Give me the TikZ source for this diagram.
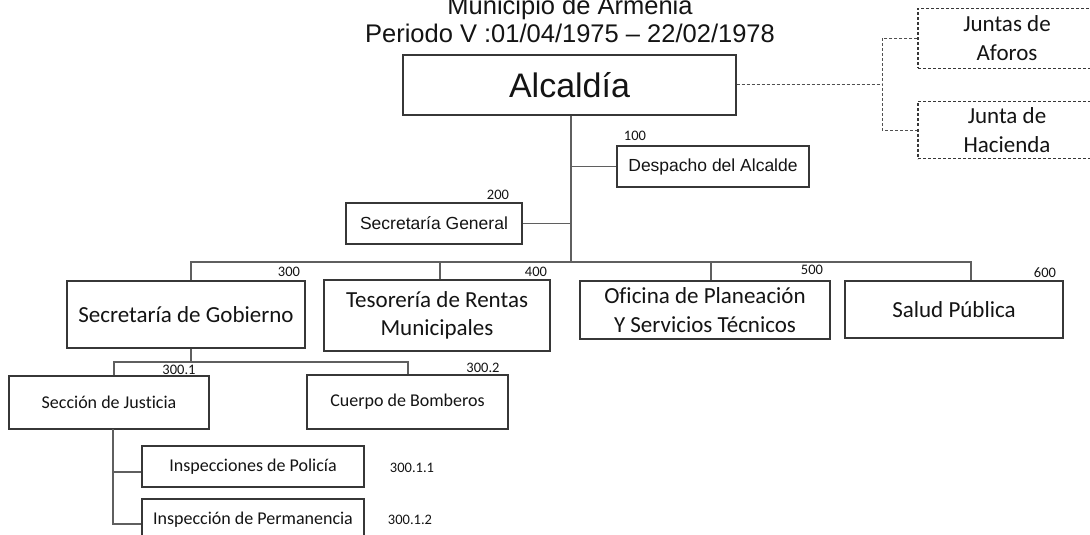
\documentclass[tikz,border=0pt]{standalone}
\usepackage{fontspec}
\setmainfont{Carlito}[Ligatures=NoCommon]
\newfontfamily\arialf{Liberation Sans}
\definecolor{lineC}{RGB}{95,95,95}
\definecolor{boxC}{RGB}{55,55,55}
\definecolor{dashC}{RGB}{80,80,80}
\definecolor{txtC}{RGB}{20,20,20}
\begin{document}
\begin{tikzpicture}[x=1pt,y=-1pt,
  every node/.style={text=txtC},
  orgbox/.style={draw=boxC,line width=1.2pt,inner sep=0pt,align=center},
  dashbox/.style={orgbox,dashed,dash pattern=on 3pt off 2pt},
  big/.style={font=\fontsize{23}{29}\selectfont},
  small/.style={font=\fontsize{18}{22}\selectfont},
  arialmid/.style={font=\arialf\fontsize{17.5}{21}\selectfont},
  codelabel/.style={font=\fontsize{14.5}{17}\selectfont,inner sep=0pt},
  conn/.style={draw=lineC,line width=1.2pt},
  dconn/.style={draw=dashC,line width=1pt,dash pattern=on 3pt off 2pt}
]
\useasboundingbox (0,0) rectangle (1090,535);
\clip (0,0) rectangle (1090,535);
\fill[white] (0,0) rectangle (1090,535);

% title
\node[anchor=base,inner sep=0pt,font=\arialf\fontsize{25.5}{28}\selectfont] (t1) at (570,15) {Municipio de Armenia};
\node[anchor=base,inner sep=0pt,font=\arialf\fontsize{25.5}{28}\selectfont] (t2) at (570,43) {Periodo V :01/04/1975 – 22/02/1978};

% boxes
\node[orgbox,minimum width=333pt,minimum height=60pt,font=\arialf\fontsize{34}{38}\selectfont] (alc) at (569.5,85) {Alcaldía};
\node[dashbox,big,minimum width=178pt,minimum height=60pt] (jaf) at (1007,38.5) {Juntas de\\Aforos};
\node[dashbox,big,minimum width=178pt,minimum height=57pt] (jha) at (1007,130) {Junta de\\Hacienda};
\node[orgbox,arialmid,minimum width=192pt,minimum height=41pt] (desp) at (713,166.5) {Despacho del Alcalde};
\node[orgbox,arialmid,minimum width=176pt,minimum height=41pt] (sg) at (434,223.5) {Secretaría General};
\node[orgbox,big,minimum width=238pt,minimum height=67pt] (sgob) at (186,314.5) {Secretaría de Gobierno};
\node[orgbox,big,minimum width=226pt,minimum height=71pt,font=\fontsize{23}{28}\selectfont] (tes) at (437,315.5) {Tesorería de Rentas\\Municipales};
\node[orgbox,big,minimum width=250pt,minimum height=58pt] (ofi) at (705,310) {Oficina de Planeación\\Y Servicios Técnicos};
\node[orgbox,big,minimum width=218pt,minimum height=57pt] (sal) at (954,309.5) {Salud Pública};
\node[orgbox,small,minimum width=200pt,minimum height=53pt] (sjus) at (109,402.5) {Sección de Justicia};
\node[orgbox,small,minimum width=201pt,minimum height=54pt] (cbom) at (407.5,402) {Cuerpo de Bomberos};
\node[orgbox,small,minimum width=222pt,minimum height=41pt] (ipol) at (253,466.5) {Inspecciones de Policía};
\node[orgbox,small,minimum width=222pt,minimum height=41pt] (iper) at (253,519.5) {Inspección de Permanencia};

% code labels
\node[codelabel] (l100) at (635,136) {100};
\node[codelabel] (l200) at (498,195) {200};
\node[codelabel] (l300) at (289,272) {300};
\node[codelabel] (l400) at (536,272) {400};
\node[codelabel] (l500) at (812,270) {500};
\node[codelabel] (l600) at (1045,273) {600};
\node[codelabel] (l3001) at (179,370) {300.1};
\node[codelabel] (l3002) at (483,368) {300.2};
\node[codelabel] (l30011) at (412,468) {300.1.1};
\node[codelabel] (l30012) at (410,520) {300.1.2};

% connector coordinates
\coordinate (trunk) at (571,262);
\coordinate (b1) at (191,262);
\coordinate (b2) at (440,262);
\coordinate (b3) at (711,262);
\coordinate (b4) at (971,262);
\coordinate (c0) at (191,362);
\coordinate (c1) at (114,362);
\coordinate (c2) at (408,362);
\coordinate (s0) at (113,429);
\coordinate (s1) at (113,472);
\coordinate (s2) at (113,524);
\coordinate (dv) at (882,85);

% connectors
\draw[conn] (alc.south -| trunk) -- (trunk);
\draw[conn] (desp.west -| trunk) -- (desp.west);
\draw[conn] (sg.east) -- (sg.east -| trunk);
\draw[conn] (sgob.north -| b1) -- (b1) -- (b4) -- (sal.north -| b4);
\draw[conn] (tes.north -| b2) -- (b2);
\draw[conn] (ofi.north -| b3) -- (b3);
\draw[conn] (sgob.south -| c0) -- (c0);
\draw[conn] (sjus.north -| c1) -- (c1) -- (c2) -- (cbom.north -| c2);
\draw[conn] (s0) -- (s2) -- (s2 -| iper.west);
\draw[conn] (s1) -- (s1 -| ipol.west);

% dashed links
\draw[dconn] (alc.east) -- (alc.east -| dv);
\draw[dconn] (jaf.west) -| (dv) |- (jha.west);
\end{tikzpicture}
\end{document}
